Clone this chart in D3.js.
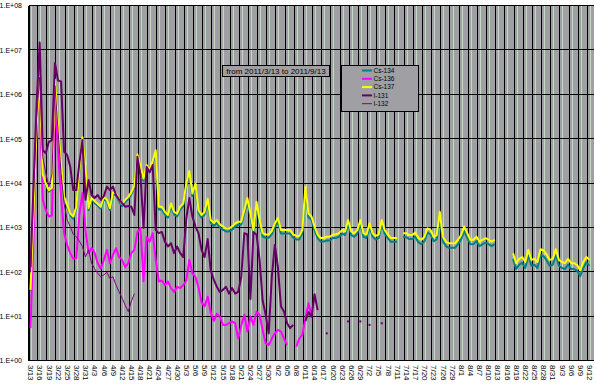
<!DOCTYPE html>
<html>
<head>
<meta charset="utf-8">
<script src="https://cdn.jsdelivr.net/npm/d3@7"></script>
<style>
  body { margin: 0; background: #fff; }
  svg text { font-family: "Liberation Sans", Arial, sans-serif; fill: #000; }
</style>
</head>
<body>
<svg id="chart" width="596" height="386"></svg>
<script>
// categories: one per day, 2011/3/13 .. 2011/9/13
var days = d3.timeDay.range(new Date(2011, 2, 13), new Date(2011, 8, 14));
var categories = days.map(d3.timeFormat("%-m/%-d"));
var tickLabels = categories.filter(function(d, i) { return i % 3 === 0; });
var yTicks = [1, 10, 100, 1e3, 1e4, 1e5, 1e6, 1e7, 1e8];
var yTickLabels = ["1.E+00", "1.E+01", "1.E+02", "1.E+03", "1.E+04", "1.E+05", "1.E+06", "1.E+07", "1.E+08"];
var seriesNames = ["Cs-134", "Cs-136", "Cs-137", "I-131", "I-132"];
var seriesColors = ["#008080", "#ff00ff", "#ffff00", "#660066", "#800080"];
var titleText = "from 2011/3/13 to 2011/9/13";

var _ = null;
var cs134 = [
  38, 2400, 1.9e5, 2.3e6, 1.5e4, 9500, 6600, 7500, 2.1e6, 2.2e5,
  2.7e4, 4600, 3000, 1900, 1600, 2800, 1.9e4, 1.0e5, 2.1e4, 2500,
  4300, 3600, 3200, 2700, 4500, 3900, 2500, 5700, 5400, 3900,
  3100, 3900, 4500, 5700, 8000, 4.1e4, 2.2e4, 1.15e4, 2.3e4, 1.8e4,
  2.8e4, 5.0e4, 2600, 2600, 2000, 1700, 3100, 2000, 1800, 2600,
  3100, 8800, 1.7e4, 5200, 8800, 2200, 1700, 2000, 3900, 1300,
  1100, 1300, 1020, 910, 830, 830, 910, 1070, 1170, 1170,
  2100, 4000, 1800, 750, 3300, 1270, 640, 600, 600, 720,
  1060, 1400, 750, 750, 750, 750, 600, 550, 550, 750,
  7200, 1750, 1500, 890, 590, 490, 490, 520, 520, 590,
  590, 630, 740, 690, 1250, 690, 630, 740, 1250, 630,
  590, 1040, 630, 545, 590, 1240, 730, 585, 485, 485,
  485, _, 620, 620, 560, 560, 630, 470, 430, 500,
  790, 710, 500, 550, 1850, 500, 390, 355, 355, 355,
  430, 550, 850, 600, 430, 430, 500, 385, 430, 465,
  430, 385, 430, _, _, _, _, _, 200, 118,
  148, 163, 125, 240, 140, 148, 125, 245, 230, 185,
  140, 148, 245, 140, 125, 118, 148, 118, 118, 107,
  82, 125, 165, 140, _
];
var cs136 = [
  5.5, 630, 3.2e5, 6.3e5, 4300, 2500, 1800, 1900, 7.1e5, 5.6e4,
  5000, 760, 410, 270, 200, 210, 2000, 6000, 890, 270,
  350, 270, 160, 120, 190, 320, 160, 245, 350, 220,
  190, 130, 160, 270, 320, 790, 1000, 63, 630, 490,
  760, 190, 62, 65, 51, 62, 44, 36, 47, 44,
  51, 65, 190, 95, 79, 45, 21, 17, 28, 12.6,
  7.9, 11.7, 10, 6.5, 6.5, 7.1, 7.8, 7.1, 3.2, 6.3,
  11, 4.6, 10, 6.5, 12.9, 11, 5.0, 2.5, 2.3, 3.2,
  4.2, 5.0, 4.6, 3.2, 2.3, _, _, 2.1, 3.2, 3.9,
  8.9, 20, 10
];
var cs137 = [
  40, 2500, 2.0e5, 2.5e6, 1.6e4, 1.0e4, 7100, 8000, 2.2e6, 2.3e5,
  2.9e4, 5000, 3300, 2100, 1800, 3000, 2.0e4, 1.1e5, 2.3e4, 2800,
  4700, 4000, 3500, 3000, 5000, 4300, 2800, 6300, 6000, 4300,
  3500, 4300, 5000, 6300, 8900, 4.5e4, 2.5e4, 1.3e4, 2.6e4, 2.0e4,
  3.2e4, 5.6e4, 3000, 3000, 2300, 1950, 3550, 2300, 2100, 3000,
  3550, 1.0e4, 1.9e4, 6000, 1.0e4, 2500, 1950, 2300, 4500, 1500,
  1300, 1500, 1200, 1070, 980, 980, 1070, 1260, 1380, 1380,
  2500, 4700, 2100, 890, 3900, 1500, 760, 710, 710, 850,
  1260, 1660, 890, 890, 890, 890, 710, 660, 660, 890,
  8500, 2100, 1800, 1070, 710, 590, 590, 630, 630, 710,
  710, 760, 890, 830, 1500, 830, 760, 890, 1500, 760,
  710, 1260, 760, 660, 710, 1500, 890, 710, 590, 590,
  590, _, 760, 760, 690, 690, 780, 590, 540, 630,
  980, 890, 630, 690, 2300, 630, 490, 450, 450, 450,
  540, 690, 1070, 760, 540, 540, 630, 490, 540, 590,
  540, 490, 540, _, _, _, _, _, 270, 160,
  200, 220, 170, 320, 190, 200, 170, 330, 310, 250,
  190, 200, 330, 190, 170, 160, 200, 160, 160, 145,
  110, 170, 220, 190, _
];
var i131 = [
  130, 1.0e4, 6.3e5, 1.5e7, 5.6e4, 4.8e4, 8.7e4, 9.5e4, 5.2e6, 2.1e6,
  2.0e6, 5.2e4, 4.4e4, 2.4e4, 7100, 7100, 2.9e4, 9.5e4, 4300, 1.2e4,
  5500, 4700, 5500, 4300, 5200, 8500, 7100, 8500, 5500, 4300,
  3600, 3000, 3100, 3000, 1950, 4.0e4, 1.55e4, 1000, 2.4e4, 1.8e4,
  2.6e4, 890, 760, 810, 490, 380, 450, 270, 380, 270,
  220, 1600, 4700, 1800, 1070, 760, 320, 220, 560, 110,
  68, 47, 36, 40, 47, 33, 44, 33, 36, 79,
  760, 710, 25, 790, 710, 190, 23, 11, 4.2, 79,
  410, 130, 17, 13, 7.1, 5.5, 6.5, _, _, _,
  7.9, 12.6, 10, 32, 14, _, _, 4.2, _, _,
  _, _, _, _, 7.8, _, _, _, 7.8, _,
  _, 6.5, _, _, _, 7.1
];
var i132 = [
  100, 6300, 3.2e5, 2.5e6, 4.0e4, 1.7e4, 8500, 1.6e4, 1.6e6, 1.6e5,
  1.7e4, 3550, 1500, 1070, 710, 630, 500, 380, 220, 320,
  160, 120, 95, 79, 87, 100, 72, 79, 51, 36,
  26, 18, 13, 22, 33
];
var seriesValues = [cs134, cs136, cs137, i131, i132];
var seriesWidths = [2, 2, 2, 2, 1];

var plot = { left: 29, right: 594, top: 6, bottom: 361 };
var svg = d3.select("#chart");

var x = d3.scaleBand().domain(categories).range([plot.left, plot.right]);
var bw = x.bandwidth();
var y = d3.scaleLog().domain([1, 1e8]).range([plot.bottom, plot.top]);

// plot area
svg.append("rect")
  .attr("x", plot.left).attr("y", plot.top)
  .attr("width", plot.right - plot.left).attr("height", plot.bottom - plot.top)
  .attr("fill", "#a0a0a4");

// vertical gridlines: black every 3 days, a light one a day later
var grid = svg.append("g").attr("shape-rendering", "crispEdges");
categories.forEach(function(c, i) {
  if (i % 3 === 2) return;
  var px = Math.round(x(c)) - 0.5;
  grid.append("line")
    .attr("x1", px).attr("x2", px)
    .attr("y1", plot.top).attr("y2", plot.bottom)
    .attr("stroke", i % 3 === 0 ? "#000" : "#c0dcc0")
    .attr("stroke-width", 1);
});

// horizontal gridlines
yTicks.forEach(function(v) {
  var py = Math.round(y(v)) - 0.5;
  grid.append("line")
    .attr("x1", plot.left).attr("x2", plot.right)
    .attr("y1", py).attr("y2", py)
    .attr("stroke", "#000");
});

// axis line
grid.append("line").attr("x1", plot.left + 0.5).attr("x2", plot.left + 0.5)
  .attr("y1", plot.top).attr("y2", plot.bottom).attr("stroke", "#000");

// series
var line = d3.line()
  .defined(function(d) { return d.v != null; })
  .x(function(d) { return x(d.c) + bw / 2; })
  .y(function(d) { return y(d.v); });

var gLines = svg.append("g");
seriesValues.forEach(function(vals, s) {
  var pts = categories.map(function(c, i) {
    var v = i < vals.length ? vals[i] : null;
    return { c: c, v: v };
  });
  gLines.append("path")
    .datum(pts)
    .attr("d", line)
    .attr("fill", "none")
    .attr("stroke", seriesColors[s])
    .attr("stroke-width", seriesWidths[s])
    .attr("stroke-linejoin", "round");
  // lone values have no segment, mark them with a dot
  pts.forEach(function(p, i) {
    if (p.v == null) return;
    var prev = i > 0 ? pts[i - 1].v : null;
    var next = i < pts.length - 1 ? pts[i + 1].v : null;
    if (prev == null && next == null) {
      gLines.append("rect")
        .attr("x", x(p.c) + bw / 2 - 1).attr("y", y(p.v) - 1)
        .attr("width", 2).attr("height", 2)
        .attr("fill", seriesColors[s]);
    }
  });
});

// y labels
svg.append("g").selectAll("text")
  .data(yTicks)
  .enter().append("text")
    .attr("x", 22)
    .attr("y", function(d) { return y(d); })
    .attr("dy", "0.35em")
    .attr("text-anchor", "end")
    .attr("font-size", 7)
    .text(function(d, i) { return yTickLabels[i]; });

// x labels, rotated
svg.append("g").selectAll("text")
  .data(tickLabels)
  .enter().append("text")
    .attr("transform", function(d) {
      return "translate(" + (x(d) + bw / 2 + 0.5) + "," + (plot.bottom + 4) + ") rotate(90)";
    })
    .attr("dy", "0.35em")
    .attr("font-size", 8)
    .text(function(d) { return d; });

// title box
svg.append("rect")
  .attr("x", 222.5).attr("y", 65.5).attr("width", 107).attr("height", 11)
  .attr("fill", "#a0a0a4").attr("stroke", "#000");
svg.append("text")
  .attr("x", 276).attr("y", 71.5).attr("dy", "0.35em")
  .attr("text-anchor", "middle")
  .attr("font-size", 8)
  .text(titleText);

// legend
var legend = svg.append("g");
legend.append("rect")
  .attr("x", 341.5).attr("y", 65.5).attr("width", 77).attr("height", 46)
  .attr("fill", "#a0a0a4").attr("stroke", "#000");
seriesNames.forEach(function(name, s) {
  var ly = 70.5 + s * 8.3;
  legend.append("line")
    .attr("x1", 362).attr("x2", 372)
    .attr("y1", ly).attr("y2", ly)
    .attr("stroke", seriesColors[s]).attr("stroke-width", seriesWidths[s]);
  legend.append("text")
    .attr("x", 373.5).attr("y", ly).attr("dy", "0.35em")
    .attr("font-size", 6.5)
    .text(name);
});
</script>
</body>
</html>
